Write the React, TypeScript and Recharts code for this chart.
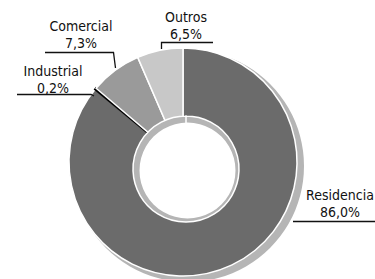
import React from 'react';
import { PieChart, Pie, Cell } from 'recharts';

const CATEGORIES = ['Residencia', 'Industrial', 'Comercial', 'Outros'];
const SHARES = [86.0, 0.2, 7.3, 6.5];
const SHARE_LABELS = ['86,0%', '0,2%', '7,3%', '6,5%'];
const COLORS = ['#6b6b6b', '#000000', '#9a9a9a', '#c8c8c8'];

const data = CATEGORIES.map((name, i) => ({ name, value: SHARES[i] }));
const single = [{ name: 'bg', value: 1 }];

const W = 375;
const H = 279;
const FONT = '"Liberation Sans Narrow", "DejaVu Sans Condensed", "Arial Narrow", sans-serif';

// label placement + leader lines (screen coordinates)
const LABEL_POS: Record<string, { x: number; y: number; line: string }> = {
  Residencia: { x: 340, y: 200, line: 'M293,221.5 H375' },
  Industrial: { x: 53, y: 76, line: 'M17,94.5 H91 L94,96' },
  Comercial: { x: 81, y: 31, line: 'M45,52.5 H113.5 L115.5,68' },
  Outros: { x: 186, y: 22, line: 'M161.5,49 V42.5 H213' },
};

export default function App() {
  return (
    <div style={{ position: 'absolute', left: 0, top: 0, width: W, height: H, background: '#fff' }}>
      <PieChart width={W} height={H} margin={{ top: 0, right: 0, bottom: 0, left: 0 }}>
        {/* drop shadow */}
        <Pie
          data={single}
          dataKey="value"
          cx={188}
          cy={166}
          outerRadius={116}
          innerRadius={0}
          startAngle={90}
          endAngle={-270}
          stroke="none"
          fill="#b5b5b5"
          isAnimationActive={false}
        />
        <Pie
          data={data}
          dataKey="value"
          nameKey="name"
          cx={183}
          cy={162}
          outerRadius={114}
          innerRadius={40}
          startAngle={90}
          endAngle={-270}
          stroke="#ffffff"
          strokeWidth={1.5}
          isAnimationActive={false}
        >
          {data.map((d, i) => (
            <Cell
              key={d.name}
              fill={COLORS[i]}
              stroke={d.name === 'Industrial' ? '#000000' : '#ffffff'}
              strokeWidth={d.name === 'Industrial' ? 2.2 : 1.5}
            />
          ))}
        </Pie>
        {/* inner hole rim */}
        <Pie
          data={single}
          dataKey="value"
          cx={186}
          cy={169}
          outerRadius={53}
          innerRadius={0}
          startAngle={90}
          endAngle={-270}
          stroke="#ffffff"
          strokeWidth={1.5}
          fill="#b5b5b5"
          isAnimationActive={false}
        />
        <Pie
          data={single}
          dataKey="value"
          cx={187.5}
          cy={170.5}
          outerRadius={48}
          innerRadius={0}
          startAngle={90}
          endAngle={-270}
          stroke="none"
          fill="#ffffff"
          isAnimationActive={false}
        />
      </PieChart>
      <svg width={W} height={H} style={{ position: 'absolute', left: 0, top: 0, pointerEvents: 'none' }}>
        {CATEGORIES.map((name, i) => {
          const p = LABEL_POS[name];
          return (
            <g key={name} fontFamily={FONT} fontSize={14} fill="#111" textAnchor="middle">
              <text x={p.x} y={p.y}>{name}</text>
              <text x={p.x} y={p.y + 17}>{SHARE_LABELS[i]}</text>
              <path d={p.line} stroke="#111" strokeWidth={1.3} fill="none" />
            </g>
          );
        })}
      </svg>
    </div>
  );
}
